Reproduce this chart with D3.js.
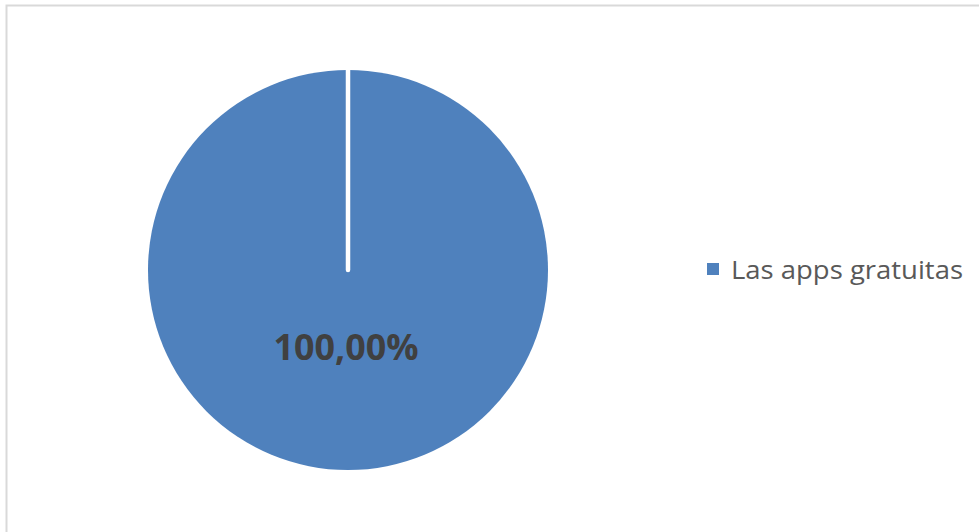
<!DOCTYPE html>
<html>
<head>
<meta charset="utf-8">
<script src="https://cdn.jsdelivr.net/npm/d3@7"></script>
<style>
  html, body { margin: 0; padding: 0; background: #fff; }
  svg { display: block; }
</style>
</head>
<body>
<svg id="chart" width="979" height="532"></svg>
<script>
// Chart data
const categories = ["Las apps gratuitas"];
const values = [100];
const valueLabels = ["100,00%"];
const colors = ["#4f81bd"];

const W = 979, H = 532;
const svg = d3.select("#chart");

// Chart area border
svg.append("rect")
  .attr("x", 6.5).attr("y", 5.5)
  .attr("width", W).attr("height", H)
  .attr("fill", "#fff")
  .attr("stroke", "#d9d9d9")
  .attr("stroke-width", 2);

const cx = 348, cy = 270, R = 200;
const g = svg.append("g").attr("transform", `translate(${cx},${cy})`);

const pie = d3.pie().sort(null).value(d => d)(values);
const arc = d3.arc().innerRadius(0).outerRadius(R);

g.selectAll("path.slice")
  .data(pie)
  .join("path")
  .attr("class", "slice")
  .attr("d", arc)
  .attr("fill", (d, i) => colors[i]);

// Slice separators along each slice's start edge
g.selectAll("line.sep")
  .data(pie)
  .join("line")
  .attr("class", "sep")
  .attr("x1", 0).attr("y1", 0)
  .attr("x2", d => d3.pointRadial(d.startAngle, R + 2)[0])
  .attr("y2", d => d3.pointRadial(d.startAngle, R + 2)[1])
  .attr("stroke", "#fff")
  .attr("stroke-width", 4.5)
  .attr("stroke-linecap", "round");

// Value labels
const labelArc = d3.arc().innerRadius(0).outerRadius(R);
const isFull = d => d.endAngle - d.startAngle >= 2 * Math.PI - 1e-6;
g.selectAll("text.val")
  .data(pie)
  .join("text")
  .attr("class", "val")
  .attr("x", d => isFull(d) ? -2 : labelArc.centroid(d)[0])
  .attr("y", d => isFull(d) ? 90 : labelArc.centroid(d)[1])
  .attr("text-anchor", "middle")
  .attr("font-family", "'Open Sans', 'Liberation Sans', sans-serif")
  .attr("font-weight", "bold")
  .attr("font-size", 35)
  .attr("fill", "#404040")
  .attr("textLength", 145)
  .attr("lengthAdjust", "spacingAndGlyphs")
  .text((d, i) => valueLabels[i]);

// Legend
const legend = svg.append("g").attr("transform", "translate(707,263)");
const items = legend.selectAll("g.item")
  .data(categories)
  .join("g")
  .attr("class", "item")
  .attr("transform", (d, i) => `translate(0,${i * 30})`);
items.append("rect")
  .attr("width", 12).attr("height", 12)
  .attr("fill", (d, i) => colors[i]);
items.append("text")
  .attr("x", 24).attr("y", 16)
  .attr("font-family", "'Open Sans', 'Liberation Sans', sans-serif")
  .attr("font-size", 26)
  .attr("fill", "#595959")
  .attr("textLength", 232)
  .attr("lengthAdjust", "spacingAndGlyphs")
  .text(d => d);
</script>
</body>
</html>
